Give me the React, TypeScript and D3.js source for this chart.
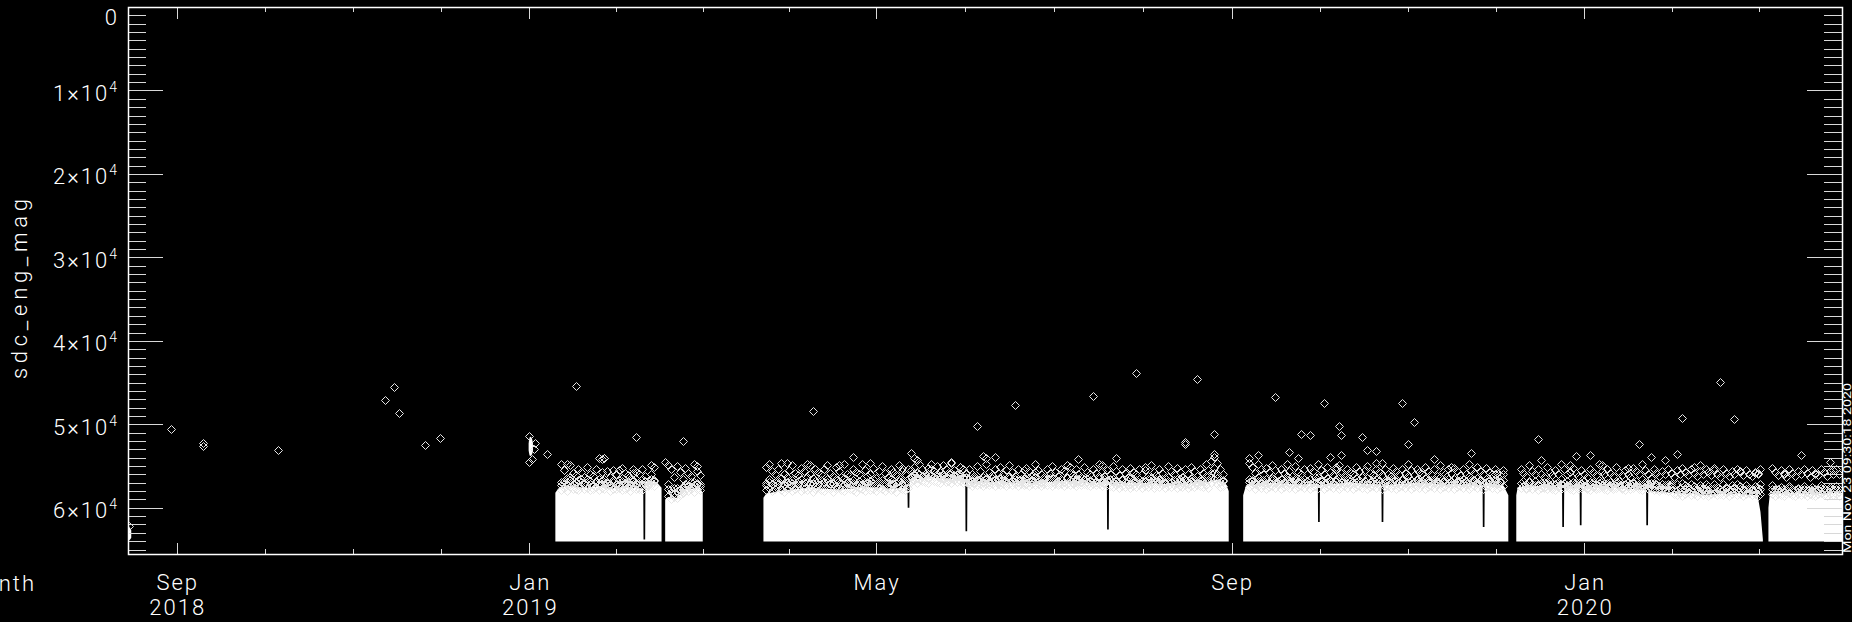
import React from "react";
import * as d3 from "d3";

const W = 1852;
const H = 622;
const PL = 128, PR = 1842, PT = 7, PB = 554;

const xDomain = ["2018-08-15T03:00", "2020-03-30T05:00"];
const yDomain = [0, 65535];
const yMajorTicks = [0, 10000, 20000, 30000, 40000, 50000, 60000];
const yMajorMantissa = ["0", "1", "2", "3", "4", "5", "6"];
const yMinorStep = 1000;
const xMajorTicks = ["2018-09-01", "2019-01-01", "2019-05-01", "2019-09-01", "2020-01-01", "2020-05-01"];
const xMonthLabels = ["Sep", "Jan", "May", "Sep", "Jan"];
const xYearLabels = ["2018", "2019", "", "", "2020"];
const yTitle = "sdc_eng_mag";
const xTitle = "Month";
const stamp = "Mon Nov 23 09:30:18 2020";

// dense white band: [date, top value]; the band reaches down to bandFloor
const bandFloor = 64050;
const bandA: [string, number][] = [
  ["2019-01-10", 58200], ["2019-01-11", 57700], ["2019-01-14", 57300], ["2019-01-17", 57500],
  ["2019-01-21", 57600], ["2019-01-25", 57400], ["2019-01-29", 57700], ["2019-02-02", 57500],
  ["2019-02-06", 57600], ["2019-02-09T10:00", 57700], ["2019-02-09T12:00", 63800], ["2019-02-10T02:00", 63800],
  ["2019-02-10T04:00", 56800], ["2019-02-14", 56900], ["2019-02-15T18:00", 57600],
];
const bandB: [string, number][] = [
  ["2019-02-17", 59000], ["2019-02-18", 58700], ["2019-02-21", 58800], ["2019-02-23", 58000],
  ["2019-02-26", 57700], ["2019-03-01", 57600], ["2019-03-02", 58200],
];
const bandC: [string, number][] = [
  ["2019-03-23", 58800], ["2019-03-24", 58300], ["2019-03-30", 57900], ["2019-04-08", 57600],
  ["2019-04-18", 57800], ["2019-04-28", 57500], ["2019-05-06", 57700], ["2019-05-11T20:00", 57600],
  ["2019-05-11T22:00", 60000], ["2019-05-12T12:00", 60000], ["2019-05-12T14:00", 56600], ["2019-05-20", 56400],
  ["2019-05-27", 56500], ["2019-05-31T20:00", 56600], ["2019-05-31T22:00", 62800], ["2019-06-01T12:00", 62800],
  ["2019-06-01T14:00", 57000], ["2019-06-12", 56900], ["2019-06-25", 57000], ["2019-07-05", 56800],
  ["2019-07-15", 57000], ["2019-07-19T20:00", 56900], ["2019-07-19T22:00", 62600], ["2019-07-20T12:00", 62600],
  ["2019-07-20T14:00", 57100], ["2019-08-01", 57000], ["2019-08-12", 57200], ["2019-08-22", 57000],
  ["2019-08-27", 56600], ["2019-08-30", 57100], ["2019-08-31", 58000],
];
const bandD: [string, number][] = [
  ["2019-09-05", 58500], ["2019-09-06", 57300], ["2019-09-15", 57000], ["2019-09-25", 57200],
  ["2019-09-30T20:00", 57100], ["2019-09-30T22:00", 61700], ["2019-10-01T12:00", 61700], ["2019-10-01T14:00", 57200],
  ["2019-10-12", 57000], ["2019-10-22T20:00", 57200], ["2019-10-22T22:00", 61700], ["2019-10-23T12:00", 61700],
  ["2019-10-23T14:00", 57300], ["2019-11-03", 57000], ["2019-11-14", 57200], ["2019-11-26T20:00", 57300],
  ["2019-11-26T22:00", 62300], ["2019-11-27T12:00", 62300], ["2019-11-27T14:00", 57000], ["2019-12-04", 57300],
  ["2019-12-05T18:00", 58500],
];
const bandE: [string, number][] = [
  ["2019-12-08T12:00", 58500], ["2019-12-09", 57500], ["2019-12-16", 57400], ["2019-12-24T08:00", 57500],
  ["2019-12-24T10:00", 62300], ["2019-12-25T00:00", 62300], ["2019-12-25T02:00", 57600], ["2019-12-30T10:00", 57500],
  ["2019-12-30T12:00", 62100], ["2019-12-31T02:00", 62100], ["2019-12-31T04:00", 57400], ["2020-01-10", 57600],
  ["2020-01-22T10:00", 57800], ["2020-01-22T12:00", 62100], ["2020-01-23T02:00", 62100], ["2020-01-23T04:00", 58000],
  ["2020-02-01", 58200], ["2020-02-12", 58400], ["2020-02-22", 58300], ["2020-03-01", 58500],
  ["2020-03-02", 60500], ["2020-03-02T20:00", 63800],
];
const bandF: [string, number][] = [
  ["2020-03-04T18:00", 60000], ["2020-03-05T06:00", 58300], ["2020-03-12", 58200], ["2020-03-20", 58300],
  ["2020-03-31", 58200],
];

// small solid clusters: [date, top, bottom]
const blobAug: [string, number, number][] = [
  ["2018-08-14T12:00", 62400, 63800], ["2018-08-15T12:00", 62300, 63900], ["2018-08-16T06:00", 62700, 63600],
];
const blobJan: [string, number, number][] = [
  ["2018-12-31T18:00", 52300, 53100], ["2019-01-01T06:00", 51500, 53800], ["2019-01-01T18:00", 51600, 53700],
  ["2019-01-02T06:00", 52300, 53200],
];

// diamonds in and above the dense band, one row per day
const meshAStart = "2019-01-12";
const meshA: number[][] = [
  [54800, 56900, 57300, 57900], [55500, 57100, 56800, 57600], [56400, 57300, 57100, 58000], [54900, 56300, 56700, 57500], [55800, 57200, 57200, 57800],
  [56100, 57000, 56900, 57700], [55300, 56700, 57300, 57900], [55700, 56900, 56600, 57400], [56300, 57200, 57000, 57800], [55100, 56500, 57200, 57600],
  [55900, 57100, 56800, 57900], [56200, 57300, 57300, 57700], [55400, 56800, 56900, 57500], [56600, 57200, 57100, 57900], [54100, 55700, 56700, 57600],
  [54000, 56600, 57200, 57800], [55600, 57000, 56900, 57400], [56300, 57100, 57300, 58000], [55500, 56900, 56700, 57700], [55900, 57300, 57100, 57800],
  [56700, 57200, 57300, 57600], [55200, 56400, 56800, 57900], [55800, 57000, 57200, 57700], [56100, 57200, 56900, 57500], [56500, 57100, 57300, 58000],
  [55300, 56800, 56700, 57600], [55700, 57000, 57100, 57800], [56000, 57300, 56900, 57700], [55400, 56600, 57200, 57900], [56200, 57200, 56800, 57500],
  [56800, 57300, 57000, 57400], [55900, 56900, 56600, 57300], [55100, 56700, 56800, 57400],
];
const meshBStart = "2019-02-18";
const meshB: number[][] = [
  [54900, 57200, 57800, 58600], [55400, 57800, 58100, 58900], [56300, 58200, 57600, 58700], [55000, 57600, 58000, 58800],
  [55700, 57900, 57700, 58500], [56500, 58100, 57500, 58200], [55200, 57400, 57100, 57900], [55800, 57300, 57400, 58000],
  [56200, 57500, 56900, 57700], [54800, 56900, 57300, 58100], [55600, 57200, 57000, 57800], [56100, 57400, 57200, 57900],
];
const meshCStart = "2019-03-24";
const meshC: number[][] = [
  [55100, 57000, 57300, 57900], [54700, 56600, 56900, 57600], [55600, 57200, 57200, 58000], [56000, 56900, 57400, 57800], [55300, 57100, 56800, 57500],
  [54600, 56400, 57100, 57900], [55900, 57200, 57300, 58100], [56300, 57000, 56900, 57700], [55500, 56800, 57200, 57600], [54900, 56700, 57000, 58000],
  [55800, 57100, 57400, 57800], [56100, 57200, 56800, 57500], [55200, 56600, 57100, 58000], [55600, 56900, 57300, 57700], [54800, 56300, 56900, 57900],
  [55900, 57000, 57200, 57600], [56400, 57200, 57000, 58100], [55300, 56800, 57400, 57800], [55700, 57100, 56800, 57500], [56000, 56700, 57100, 57900],
  [55400, 56900, 57300, 58000], [54900, 56500, 56900, 57600], [55800, 57000, 57200, 57800], [56200, 57200, 57000, 58100], [55100, 56600, 57400, 57700],
  [55600, 56800, 56800, 57500], [56300, 57100, 57100, 57900], [54700, 56400, 57300, 58000], [55900, 57000, 56900, 57600], [56100, 56900, 57200, 57800],
  [55300, 56700, 57000, 57900], [55700, 57100, 57400, 58100], [56000, 57200, 56800, 57600], [54800, 56500, 57100, 57800], [55500, 56900, 57300, 58000],
  [56200, 57000, 56900, 57500], [55900, 56800, 57200, 57900], [55200, 56600, 57000, 57700], [56400, 57100, 57400, 58000], [55600, 57000, 56800, 57600],
  [55000, 56700, 57100, 57800], [55800, 57000, 57300, 58000], [56300, 56900, 56900, 57600], [55400, 56600, 57200, 57900], [55700, 57100, 57000, 57700],
  [56100, 57000, 57400, 58100], [54900, 56400, 56800, 57500], [55600, 56800, 57100, 57800], [56000, 56900, 57200, 57900], [55300, 56500, 57000, 57600],
  [55500, 56200, 56300, 56900], [55100, 56000, 56100, 56700], [55800, 56300, 56400, 57000], [54800, 55900, 56000, 56600], [55400, 56200, 56300, 56800],
  [56000, 56400, 56200, 56900], [55200, 55900, 56400, 57000], [54700, 56100, 56100, 56700], [55600, 56300, 56300, 56800], [55000, 56000, 56200, 56900],
  [55700, 56200, 56400, 57000], [54900, 56100, 56000, 56600], [55300, 56300, 56300, 56900], [55800, 56400, 56200, 56800], [54600, 55800, 56400, 57000],
  [55500, 56200, 56100, 56700], [55900, 56300, 56300, 56900], [55100, 56000, 56200, 56800], [55400, 56300, 56400, 57000], [55800, 56400, 56300, 56900],
  [55300, 56900, 56500, 57200], [55900, 56700, 56800, 57400], [56200, 57000, 56400, 57100], [55000, 56500, 56700, 57300], [55600, 56800, 56600, 57200],
  [56300, 57000, 56900, 57400], [54800, 56400, 56500, 57100], [55700, 56900, 56800, 57300], [56100, 56800, 56400, 57200], [55400, 56600, 56700, 57400],
  [55800, 56900, 56600, 57100], [55100, 56400, 56900, 57300], [56000, 56800, 56500, 57200], [55500, 57000, 56800, 57400], [54900, 56200, 56400, 57100],
  [55700, 56700, 56700, 57300], [56200, 56900, 56600, 57200], [55300, 56500, 56900, 57400], [55900, 56800, 56500, 57100], [56400, 57000, 56800, 57300],
  [55200, 56600, 56600, 57200], [55600, 56900, 56400, 57400], [56100, 56700, 56800, 57100], [54800, 56300, 56700, 57300], [55500, 56800, 56500, 57200],
  [55900, 57000, 56900, 57400], [56300, 56900, 56600, 57100], [55400, 56500, 56800, 57300], [55800, 56700, 56400, 57200], [55000, 56400, 56700, 57400],
  [55700, 56800, 56500, 57100], [56200, 57000, 56800, 57300], [55300, 56600, 56600, 57200], [55600, 56900, 56900, 57400], [54900, 56300, 56400, 57100],
  [55800, 56700, 56700, 57300], [56100, 57000, 56500, 57200], [55400, 56500, 56800, 57400], [55900, 56800, 56600, 57100], [56300, 56900, 56900, 57300],
  [55100, 56600, 56700, 57200], [55700, 56900, 56500, 57300], [56000, 56700, 56800, 57400], [55300, 56500, 56600, 57100], [55800, 56800, 56900, 57300],
  [54700, 56200, 56400, 57200], [55600, 56900, 56700, 57400], [56200, 57000, 56600, 57100], [55500, 56700, 56800, 57300], [55900, 56600, 56700, 57400],
  [55000, 56500, 56900, 57500], [55600, 56800, 56700, 57300], [56100, 57000, 57000, 57600], [55400, 56700, 56600, 57400], [55800, 56900, 56900, 57500],
  [56300, 56800, 56800, 57300], [55200, 56400, 57100, 57600], [55700, 56900, 56700, 57400], [56000, 56700, 56900, 57500], [55300, 56600, 56600, 57300],
  [55900, 56800, 57000, 57600], [55500, 56900, 56800, 57400], [56200, 57000, 56600, 57500], [54900, 56400, 56900, 57300], [55700, 56700, 57100, 57600],
  [56100, 56900, 56700, 57400], [55300, 56500, 56900, 57500], [55800, 56800, 56600, 57300], [56400, 57000, 57000, 57600], [55000, 56300, 56800, 57400],
  [55600, 56900, 56900, 57500], [56000, 56700, 56700, 57300], [55200, 56600, 57000, 57600], [55700, 56800, 56600, 57400], [56300, 57000, 56900, 57500],
  [55400, 56500, 56700, 57300], [55900, 56900, 57100, 57600], [55100, 56400, 56800, 57400], [55600, 56800, 56600, 57500], [56200, 57000, 56900, 57300],
  [55300, 56600, 56800, 57400], [55800, 56900, 56600, 57500], [54700, 56200, 56900, 57300], [55500, 56700, 56700, 57600], [54400, 55800, 56300, 57000],
  [53900, 55200, 55800, 56600], [54600, 56000, 56400, 57100], [55400, 56500, 56900, 57500], [55900, 56800, 56700, 57400],
];
const meshDStart = "2019-09-07";
const meshD: number[][] = [
  [54600, 56500, 56900, 57500], [55100, 56800, 56700, 57300], [55800, 57000, 57100, 57700], [54800, 56300, 56800, 57400], [55400, 56700, 57000, 57600],
  [56000, 56900, 56700, 57300], [55200, 56600, 57100, 57700], [55700, 57000, 56900, 57500], [54900, 56400, 56700, 57400], [55500, 56800, 57000, 57600],
  [56100, 57000, 56800, 57300], [55300, 56600, 57100, 57700], [55800, 56900, 56900, 57500], [54700, 56200, 56700, 57400], [55600, 56700, 57000, 57600],
  [56200, 57000, 56800, 57300], [55000, 56500, 57100, 57700], [55700, 56800, 56900, 57500], [56000, 56900, 56700, 57400], [55400, 56600, 57000, 57600],
  [55900, 56800, 56800, 57300], [55200, 56500, 57100, 57700], [55600, 56900, 56900, 57500], [56300, 57000, 56700, 57400], [54800, 56300, 57000, 57600],
  [55500, 56700, 56800, 57300], [55900, 56900, 57100, 57700], [55100, 56400, 56900, 57500], [55700, 56800, 56700, 57400], [56100, 57000, 57000, 57600],
  [55400, 56600, 56800, 57300], [54900, 56300, 57100, 57700], [55800, 56900, 56900, 57500], [56200, 57000, 56700, 57400], [55300, 56500, 57000, 57600],
  [55700, 56800, 56800, 57300], [56000, 56900, 57100, 57700], [55100, 56400, 56900, 57500], [55600, 56700, 56700, 57400], [56300, 57000, 57000, 57600],
  [55500, 56800, 56800, 57300], [55000, 56400, 57100, 57700], [55800, 56900, 56900, 57500], [56100, 57000, 56700, 57400], [55300, 56600, 57000, 57600],
  [55700, 56800, 56800, 57300], [54600, 56100, 57100, 57700], [55400, 56700, 56900, 57500], [55900, 56900, 56700, 57400], [56200, 57000, 57000, 57600],
  [55200, 56500, 56800, 57300], [55600, 56800, 57100, 57700], [56000, 56900, 56900, 57500], [55400, 56600, 56700, 57400], [55800, 57000, 57000, 57600],
  [54800, 56200, 56800, 57300], [55500, 56700, 57100, 57700], [56100, 56900, 56900, 57500], [55300, 56500, 56700, 57400], [55700, 56800, 57000, 57600],
  [56000, 57000, 56800, 57300], [55100, 56400, 57100, 57700], [55600, 56700, 56900, 57500], [55900, 56900, 56700, 57400], [55400, 56600, 57000, 57600],
  [56200, 57000, 56800, 57300], [54900, 56300, 57100, 57700], [55700, 56800, 56900, 57500], [56000, 56900, 56700, 57400], [55300, 56500, 57000, 57600],
  [55800, 56900, 56800, 57300], [55200, 56600, 57100, 57700], [55600, 56800, 56900, 57500], [56100, 57000, 56700, 57400], [55400, 56500, 57000, 57600],
  [55900, 56900, 56800, 57300], [54700, 56200, 57100, 57700], [55500, 56700, 56900, 57500], [55800, 56800, 56700, 57400], [55100, 56400, 57000, 57600],
  [55600, 56700, 56800, 57300], [55900, 56900, 57100, 57700], [55200, 56600, 56900, 57500], [55700, 56800, 56700, 57400], [56000, 57000, 57000, 57600],
  [55300, 56500, 56800, 57300], [55800, 56900, 57100, 57700], [56100, 56800, 56900, 57500], [55500, 56700, 56700, 57400],
];
const meshEStart = "2019-12-10";
const meshE: number[][] = [
  [55300, 57000, 57000, 57600], [55800, 57400, 56800, 57400], [56200, 57600, 57200, 57800], [54900, 56800, 56900, 57500], [55600, 57200, 57100, 57700],
  [56000, 57500, 56800, 57300], [55400, 57100, 57300, 57900], [55900, 57300, 57000, 57600], [56300, 57600, 56900, 57500], [55100, 56900, 57200, 57800],
  [55700, 57300, 56800, 57400], [56100, 57500, 57100, 57700], [55500, 57100, 57300, 57900], [55900, 57400, 56900, 57500], [54800, 56600, 57200, 57800],
  [55400, 57000, 57000, 57600], [56000, 57300, 56800, 57400], [55700, 57500, 57100, 57700], [55200, 56900, 57300, 57900], [55800, 57200, 56900, 57500],
  [56200, 57500, 57200, 57800], [55500, 57100, 57000, 57600], [55900, 57400, 56800, 57400], [56300, 57600, 57100, 57700], [55300, 56900, 57300, 57900],
  [55700, 57200, 56900, 57500], [56100, 57500, 57200, 57800], [54800, 56700, 57000, 57600], [55600, 57300, 56800, 57400], [56000, 57400, 57100, 57700],
  [55400, 57000, 57300, 57900], [55800, 57300, 56900, 57500], [56200, 57500, 57200, 57800], [55100, 56800, 57000, 57600], [55700, 57200, 56800, 57400],
  [56100, 57600, 57100, 57700], [55500, 57100, 57300, 57900], [55900, 57400, 56900, 57500], [56300, 57700, 57200, 57800], [55200, 56900, 57000, 57600],
  [55600, 57300, 56800, 57400], [56000, 57500, 57100, 57700], [54700, 56500, 57300, 57900], [55500, 57100, 56900, 57500], [55900, 57400, 57200, 57800],
  [56400, 57600, 57000, 57600], [55300, 57000, 57300, 57900], [55800, 57300, 57100, 57700], [56200, 57700, 57400, 58000], [55600, 57200, 57200, 57800],
  [55900, 57500, 57300, 57900], [55300, 57100, 57400, 58000], [55800, 57400, 57200, 57800], [56300, 57800, 57700, 58300], [55500, 57200, 57900, 58500],
  [56000, 57600, 57600, 58200], [55200, 57000, 58000, 58600], [55700, 57300, 57800, 58400], [56100, 57700, 57500, 58100], [55400, 57100, 57900, 58500],
  [55800, 57400, 57700, 58300], [56200, 57800, 58000, 58600], [55600, 57300, 57600, 58200], [56000, 57600, 57900, 58500], [55300, 57100, 57700, 58300],
  [55700, 57400, 58100, 58600], [56100, 57700, 57800, 58400], [55500, 57200, 57600, 58200], [55900, 57500, 58000, 58500], [56300, 57800, 57700, 58300],
  [55400, 57200, 57900, 58500], [55800, 57500, 57600, 58200], [56200, 57800, 58000, 58600], [55600, 57300, 57800, 58400], [56000, 57600, 57500, 58100],
  [55300, 57100, 57900, 58500], [55700, 57400, 57700, 58300], [56100, 57700, 58100, 58600], [55500, 57300, 57800, 58400], [55900, 57600, 57600, 58200],
  [56200, 57800, 57900, 58500], [55700, 57400, 57700, 58300], [56000, 57600, 58000, 58600], [55400, 57200, 57800, 58400],
];
const meshFStart = "2020-03-06";
const meshF: number[][] = [
  [55200, 57300, 57800, 58400], [55700, 57700, 58000, 58600], [56100, 57900, 57700, 58300], [55500, 57500, 57900, 58500], [55900, 57800, 58100, 58600],
  [56300, 58000, 57800, 58400], [55300, 57400, 57600, 58200], [55800, 57700, 58000, 58500], [56200, 57900, 57900, 58600], [55600, 57600, 57700, 58300],
  [56000, 57800, 58000, 58500], [55400, 57400, 57800, 58400], [55800, 57700, 58100, 58600], [56300, 58000, 57700, 58300], [55500, 57500, 57900, 58500],
  [55900, 57800, 58000, 58600], [56100, 57900, 57800, 58400], [55300, 57300, 57600, 58200], [55700, 57600, 58000, 58500], [56200, 57900, 57900, 58600],
  [55600, 57500, 57700, 58300], [56000, 57800, 58000, 58500], [55400, 57400, 57800, 58400], [55900, 57700, 58100, 58600],
];

// individual diamonds
const outliers: [string, number][] = [
  ["2018-08-15T12:00", 62150], ["2018-08-30", 50570], ["2018-09-10", 52250], ["2018-09-10", 52550],
  ["2018-10-06", 53090], ["2018-11-12", 47060], ["2018-11-15", 45570], ["2018-11-17", 48650],
  ["2018-11-26", 52490], ["2018-12-01", 51610],
  ["2019-01-01", 51400], ["2019-01-01", 54490], ["2019-01-02", 54200], ["2019-01-03", 52280],
  ["2019-01-02T12:00", 53000], ["2019-01-07", 53530], ["2019-01-17", 45420], ["2019-01-13", 55480],
  ["2019-01-14", 54770], ["2019-01-25", 54080], ["2019-01-27", 54010], ["2019-02-01", 55480],
  ["2019-02-06", 55880], ["2019-02-07", 51490], ["2019-02-12", 54880], ["2019-02-17", 54560],
  ["2019-02-23", 52000], ["2019-02-28", 54960],
  ["2019-03-24", 55080], ["2019-03-31", 54680], ["2019-04-08", 54880], ["2019-04-09", 48380],
  ["2019-04-18", 54880], ["2019-04-23", 53960], ["2019-04-29", 54610], ["2019-05-10", 55280],
  ["2019-05-13", 53490], ["2019-05-14", 54010], ["2019-05-15", 54280], ["2019-05-20", 55400],
  ["2019-05-27", 54560], ["2019-05-30", 55160], ["2019-06-05", 50170], ["2019-06-07", 53800],
  ["2019-06-08", 54080], ["2019-06-11", 53960], ["2019-06-18", 47660], ["2019-06-21", 55480],
  ["2019-06-25", 55680], ["2019-07-07", 55080], ["2019-07-10", 54200], ["2019-07-15", 46610],
  ["2019-07-18", 54880], ["2019-07-23", 54080], ["2019-07-30", 43820], ["2019-08-02", 55080],
  ["2019-08-16", 52170], ["2019-08-16", 52300], ["2019-08-20", 44580], ["2019-08-26", 51170],
  ["2019-08-26", 53600],
  ["2019-09-07", 54080], ["2019-09-10", 53690], ["2019-09-16", 46770], ["2019-09-21", 53290],
  ["2019-09-24", 54080], ["2019-09-25", 51170], ["2019-09-28", 51330], ["2019-10-03", 47490],
  ["2019-10-05", 53880], ["2019-10-07", 55160], ["2019-10-08", 50170], ["2019-10-09", 51330],
  ["2019-10-09", 53690], ["2019-10-16", 51490], ["2019-10-18", 53050], ["2019-10-21", 53200],
  ["2019-10-21", 54680], ["2019-10-30", 47490], ["2019-11-01", 52370], ["2019-11-03", 49690],
  ["2019-11-10", 54200], ["2019-11-16", 55080], ["2019-11-23", 53410], ["2019-12-01", 55960],
  ["2019-12-04", 55960],
  ["2019-12-16", 51770], ["2019-12-17", 54280], ["2019-12-27", 54880], ["2019-12-29", 53770],
  ["2020-01-03", 53690], ["2020-01-07", 54880], ["2020-01-16", 55280], ["2020-01-20", 52370],
  ["2020-01-24", 53960], ["2020-01-29", 54280], ["2020-02-02", 53560], ["2020-02-04", 49250],
  ["2020-02-08", 55080], ["2020-02-10", 54880], ["2020-02-15", 55280], ["2020-02-17", 44970],
  ["2020-02-22", 49410], ["2020-02-24", 55560], ["2020-02-29", 55880], ["2020-03-01", 55800],
  ["2020-03-08", 56080], ["2020-03-10", 55880], ["2020-03-16", 53650], ["2020-03-21", 55880],
  ["2020-03-26", 54490], ["2020-03-27", 55480],
];

const pd = (s: string) => new Date(s.length === 10 ? s + "T00:00:00Z" : s + ":00Z");

const FONT = "Roboto, 'DejaVu Sans', sans-serif";

export default function App() {
  const x = d3.scaleUtc().domain(xDomain.map(pd)).range([PL, PR]);
  const y = d3.scaleLinear().domain(yDomain).range([PT, PB]);

  const band = d3
    .area<[string, number]>()
    .x((d) => x(pd(d[0])))
    .y0(y(bandFloor))
    .y1((d) => y(d[1]));
  const blob = d3
    .area<[string, number, number]>()
    .x((d) => x(pd(d[0])))
    .y0((d) => y(d[2]))
    .y1((d) => y(d[1]))
    .curve(d3.curveCatmullRom);

  const meshPts: [Date, number][] = [];
  const addMesh = (start: string, rows: number[][]) => {
    const s = pd(start);
    rows.forEach((r, i) => {
      const dt = d3.utcDay.offset(s, i);
      r.forEach((v) => meshPts.push([dt, v]));
    });
  };
  addMesh(meshAStart, meshA);
  addMesh(meshBStart, meshB);
  addMesh(meshCStart, meshC);
  addMesh(meshDStart, meshD);
  addMesh(meshEStart, meshE);
  addMesh(meshFStart, meshF);
  const allPts: [Date, number][] = meshPts.concat(outliers.map((o) => [pd(o[0]), o[1]] as [Date, number]));

  const diamond = (cx: number, cy: number) =>
    `M${cx},${cy - 4}L${cx + 4},${cy}L${cx},${cy + 4}L${cx - 4},${cy}Z`;

  const yMinor = d3.range(yDomain[0], yDomain[1], yMinorStep).filter((v) => v % 10000 !== 0);
  const majX = xMajorTicks.map((t) => x(pd(t)));
  const minX: number[] = [];
  for (let i = 0; i < majX.length - 1; i++) {
    for (let k = 1; k < 4; k++) {
      const px = majX[i] + ((majX[i + 1] - majX[i]) * k) / 4;
      if (px > PL && px < PR) minX.push(px);
    }
  }
  const majInside = majX.filter((px) => px >= PL && px <= PR);

  const tickColor = "#d8d8d8";

  return (
    <div style={{ position: "fixed", left: 0, top: 0, width: W, height: H, background: "#000" }}>
      <svg width={W} height={H} viewBox={`0 0 ${W} ${H}`} style={{ display: "block" }}>
        <rect x={0} y={0} width={W} height={H} fill="#000" />
        <defs>
          <clipPath id="plotClip">
            <rect x={PL} y={PT} width={PR - PL} height={PB - PT} />
          </clipPath>
        </defs>
        <g clipPath="url(#plotClip)">
          {[bandA, bandB, bandC, bandD, bandE, bandF].map((b, i) => (
            <path key={"b" + i} d={band(b) || ""} fill="#fff" />
          ))}
          {[blobAug, blobJan].map((b, i) => (
            <path key={"bl" + i} d={blob(b) || ""} fill="#fff" />
          ))}
          <g fill="none" stroke="#e6e6e6" strokeWidth={1}>
            {allPts.map((p, i) => (
              <path key={i} d={diamond(Math.round(x(p[0])) + 0.5, Math.round(y(p[1])) + 0.5)} />
            ))}
          </g>
        </g>

        <g stroke={tickColor} strokeWidth={1}>
          {yMajorTicks.map((v) => {
            const py = Math.round(y(v)) + 0.5;
            return (
              <g key={"ym" + v}>
                <line x1={PL} x2={PL + 35} y1={py} y2={py} />
                <line x1={PR - 35} x2={PR} y1={py} y2={py} />
              </g>
            );
          })}
          {yMinor.map((v) => {
            const py = Math.round(y(v)) + 0.5;
            return (
              <g key={"yn" + v}>
                <line x1={PL} x2={PL + 18} y1={py} y2={py} />
                <line x1={PR - 18} x2={PR} y1={py} y2={py} />
              </g>
            );
          })}
          {majInside.map((px, i) => {
            const xx = Math.round(px) + 0.5;
            return (
              <g key={"xm" + i}>
                <line x1={xx} x2={xx} y1={PB} y2={PB - 11} />
                <line x1={xx} x2={xx} y1={PT} y2={PT + 12} />
              </g>
            );
          })}
          {minX.map((px, i) => {
            const xx = Math.round(px) + 0.5;
            return (
              <g key={"xn" + i}>
                <line x1={xx} x2={xx} y1={PB} y2={PB - 5} />
                <line x1={xx} x2={xx} y1={PT} y2={PT + 5} />
              </g>
            );
          })}
        </g>

        <rect x={PL + 0.5} y={PT + 0.5} width={PR - PL} height={PB - PT} fill="none" stroke="#fff" strokeWidth={1.5} />

        <g fill="#fff" fontFamily={FONT} fontWeight={300} fontSize={22} textAnchor="end" style={{ letterSpacing: "2px" }}>
          {yMajorTicks.map((v, i) => {
            const py = y(v);
            if (i === 0) {
              return (
                <text key={"yl" + v} x={119} y={py + 18}>
                  {yMajorMantissa[i]}
                </text>
              );
            }
            return (
              <text key={"yl" + v} x={119} y={py + 10.5}>
                {yMajorMantissa[i] + "×10"}
                <tspan fontSize={14} dy={-9}>
                  4
                </tspan>
              </text>
            );
          })}
        </g>

        <g fill="#fff" fontFamily={FONT} fontWeight={300} fontSize={22} textAnchor="middle" style={{ letterSpacing: "2px" }}>
          {xMonthLabels.map((m, i) => (
            <text key={"xl" + i} x={majX[i] + 1} y={590}>
              {m}
            </text>
          ))}
          {xYearLabels.map((yr, i) =>
            yr ? (
              <text key={"xy" + i} x={majX[i] + 1} y={615}>
                {yr}
              </text>
            ) : null
          )}
          <text x={36} y={591} textAnchor="end">
            {xTitle}
          </text>
        </g>

        <text
          transform={`translate(27,289) rotate(-90)`}
          fill="#fff"
          fontFamily={FONT}
          fontWeight={300}
          fontSize={22}
          textAnchor="middle"
          textLength={180}
          lengthAdjust="spacing"
        >
          {yTitle}
        </text>

        <text
          transform={`translate(1851,553) rotate(-90)`}
          fill="#fff"
          fontFamily={FONT}
          fontSize={11}
          textLength={170}
          lengthAdjust="spacingAndGlyphs"
        >
          {stamp}
        </text>
      </svg>
    </div>
  );
}
